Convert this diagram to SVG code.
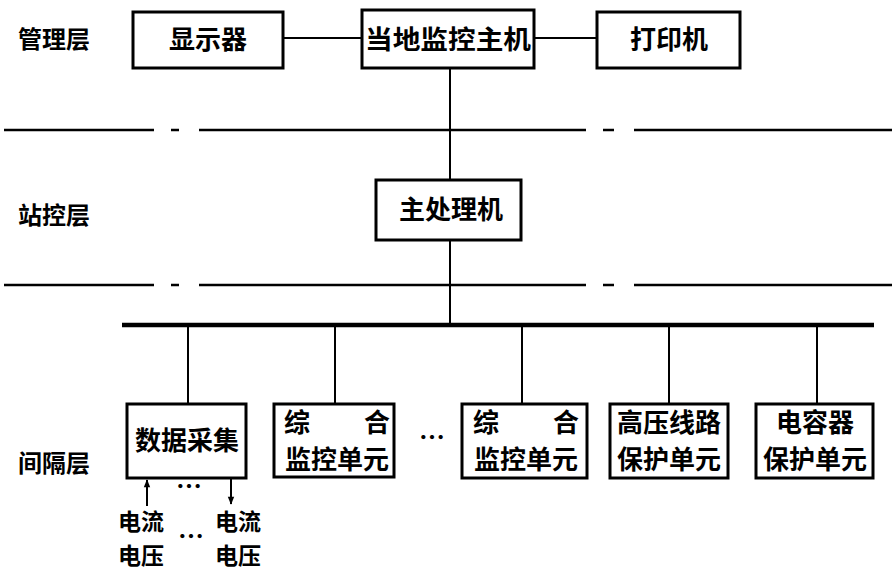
<svg xmlns="http://www.w3.org/2000/svg" width="892" height="572" viewBox="0 0 892 572">
<defs>
<style>
text{font-family:"Noto Sans CJK SC","Noto Sans CJK TC",sans-serif;font-weight:700;fill:#000;}
.lbl{font-size:24px;}
.t{font-size:26px;}
.s{font-size:23px;}
.box{fill:#fff;stroke:#000;stroke-width:3;}
.ln{stroke:#000;stroke-width:2;fill:none;}
.dash{stroke:#000;stroke-width:2.5;fill:none;}
.bus{stroke:#000;stroke-width:4.5;fill:none;}
</style>
<marker id="ah" viewBox="0 0 10 10" refX="9" refY="5" markerWidth="10" markerHeight="8" orient="auto" markerUnits="userSpaceOnUse">
<path d="M0,1 L10,5 L0,9 Z" fill="#000"/>
</marker>
</defs>
<rect width="892" height="572" fill="#fff"/>

<g id="layers">
<text class="lbl" x="18" y="48">管理层</text>
<text class="lbl" x="18" y="224">站控层</text>
<text class="lbl" x="18" y="472">间隔层</text>
<path class="dash" d="M4,130 H154 M171,130 H179 M199,130 H586 M603,130 H614 M634,130 H892"/>
<path class="dash" d="M4,285 H154 M171,285 H179 M199,285 H586 M603,285 H614 M634,285 H892"/>
</g>

<g id="connectors">
<path class="ln" d="M283,38 H362 M534,38 H597"/>
<path class="ln" d="M450,68 V180 M450,240 V325"/>
<path class="bus" d="M122,325 H874"/>
<path class="ln" d="M188,325 V404 M335,325 V404 M522,325 V404 M669,325 V404 M817,325 V404"/>
<path class="ln" d="M147,506 V480" marker-end="url(#ah)"/>
<path class="ln" d="M231,478 V504" marker-end="url(#ah)"/>
</g>

<g id="n-display">
<rect class="box" x="133" y="12" width="150" height="56"/>
<text class="t" x="208" y="49" text-anchor="middle">显示器</text>
</g>
<g id="n-host">
<rect class="box" x="362" y="10" width="172" height="58"/>
<text class="t" x="448" y="49" text-anchor="middle" textLength="166" lengthAdjust="spacingAndGlyphs">当地监控主机</text>
</g>
<g id="n-printer">
<rect class="box" x="597" y="12" width="143" height="56"/>
<text class="t" x="669" y="49" text-anchor="middle">打印机</text>
</g>
<g id="n-main">
<rect class="box" x="376" y="180" width="145" height="60"/>
<text class="t" x="451" y="219" text-anchor="middle">主处理机</text>
</g>

<g id="n-daq">
<rect class="box" x="127" y="404" width="119" height="74"/>
<text class="t" x="187" y="450" text-anchor="middle">数据采集</text>
</g>
<g id="n-mon1">
<rect class="box" x="274" y="404" width="120" height="73"/>
<text class="t" x="284" y="432">综</text>
<text class="t" x="390" y="432" text-anchor="end">合</text>
<text class="t" x="337" y="469" text-anchor="middle">监控单元</text>
</g>
<text id="dots1" class="t" x="432" y="447" text-anchor="middle">…</text>
<g id="n-mon2">
<rect class="box" x="462" y="404" width="125" height="74"/>
<text class="t" x="473" y="432">综</text>
<text class="t" x="579" y="432" text-anchor="end">合</text>
<text class="t" x="526" y="469" text-anchor="middle">监控单元</text>
</g>
<g id="n-hv">
<rect class="box" x="610" y="404" width="118" height="74"/>
<text class="t" x="669" y="432" text-anchor="middle">高压线路</text>
<text class="t" x="669" y="469" text-anchor="middle">保护单元</text>
</g>
<g id="n-cap">
<rect class="box" x="756" y="404" width="117" height="74"/>
<text class="t" x="815" y="432" text-anchor="middle">电容器</text>
<text class="t" x="815" y="469" text-anchor="middle">保护单元</text>
</g>

<g id="inputs">
<text class="t" x="189" y="496" text-anchor="middle">…</text>
<text class="s" x="141" y="530" text-anchor="middle">电流</text>
<text class="s" x="141" y="564" text-anchor="middle">电压</text>
<text class="t" x="191" y="546" text-anchor="middle">…</text>
<text class="s" x="238" y="530" text-anchor="middle">电流</text>
<text class="s" x="238" y="564" text-anchor="middle">电压</text>
</g>
</svg>
